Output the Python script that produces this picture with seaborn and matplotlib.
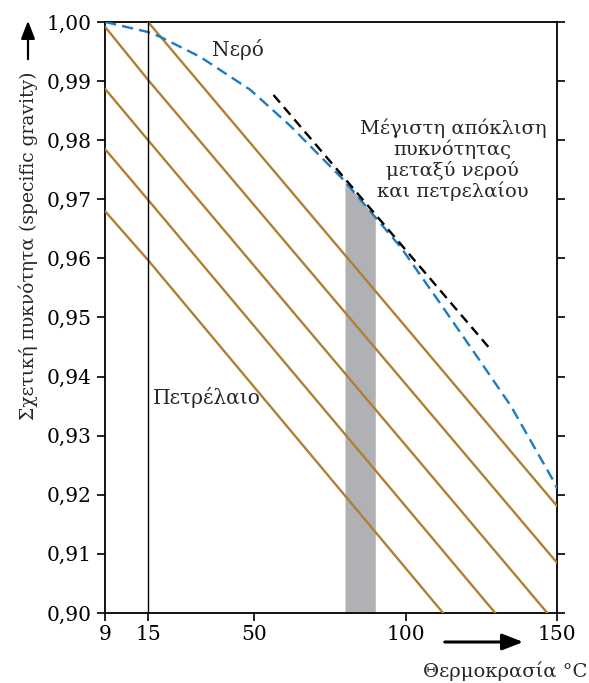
import matplotlib

matplotlib.use("Agg")

import matplotlib.pyplot as plt
import numpy as np
import pandas as pd
import seaborn as sns

# water curve (temperature °C, specific gravity)
water_t = [9, 15, 19, 32.2, 48.8, 62, 79.5, 98.4, 110.6, 122.5, 134.8, 149, 150]
water_sg = [1.000, 0.9983, 0.9975, 0.9941, 0.9885, 0.9824, 0.9733, 0.9619,
            0.9530, 0.9442, 0.9350, 0.9222, 0.9211]

# oil lines, one list of points each
oil_t = [
    [9, 15, 150],
    [15, 150],
    [9, 15, 146.8],
    [9, 15, 129.6],
    [9, 15, 112.4],
]
oil_sg = [
    [0.9992, 0.9902, 0.9085],
    [1.000, 0.9181],
    [0.9887, 0.9800, 0.900],
    [0.9785, 0.9699, 0.900],
    [0.9680, 0.9597, 0.900],
]

# tangent at the point of maximum deviation
tangent_t = [56.4, 128.5]
tangent_sg = [0.98765, 0.94433]

band_start, band_end = 80, 90

x_ticks = [9, 15, 50, 100, 150]
x_tick_labels = ["9", "15", "50", "100", "150"]
y_ticks = [0.90, 0.91, 0.92, 0.93, 0.94, 0.95, 0.96, 0.97, 0.98, 0.99, 1.00]
y_tick_labels = ["0,90", "0,91", "0,92", "0,93", "0,94", "0,95",
                 "0,96", "0,97", "0,98", "0,99", "1,00"]

BROWN = "#b07f35"
BLUE = "#1f7bc1"
GREY = "#b0b1b4"
K = 2.37  # stretch of the 9-15 section


def fwd(t):
    t = np.asarray(t, dtype=float)
    return np.where(t < 15, 15 - (15 - t) * K, t)


def inv(u):
    u = np.asarray(u, dtype=float)
    return np.where(u < 15, 15 - (15 - u) / K, u)


sns.set_style("ticks")
plt.rcParams["font.family"] = ["DejaVu Serif", "DejaVu Sans"]
plt.rcParams["font.size"] = 14

fig = plt.figure(figsize=(5.89, 6.83), dpi=100)
ax = fig.add_axes([0.1783, 0.1025, 0.7674, 0.8653])
ax.set_xscale("function", functions=(fwd, inv))

oil_df = pd.concat(
    [pd.DataFrame({"t": t, "sg": s, "line": i}) for i, (t, s) in enumerate(zip(oil_t, oil_sg))],
    ignore_index=True,
)
water_df = pd.DataFrame({"t": water_t, "sg": water_sg})
tangent_df = pd.DataFrame({"t": tangent_t, "sg": tangent_sg})

band_x = np.linspace(band_start, band_end, 30)
ax.fill_between(band_x, 0.90, np.interp(band_x, water_t, water_sg),
                color=GREY, linewidth=0, zorder=1)

sns.lineplot(data=oil_df, x="t", y="sg", units="line", estimator=None,
             color=BROWN, linewidth=1.7, sort=False, ax=ax, zorder=3)
sns.lineplot(data=water_df, x="t", y="sg", color=BLUE, linewidth=1.7,
             linestyle=(0, (4.8, 2.6)), ax=ax, zorder=4)
sns.lineplot(data=tangent_df, x="t", y="sg", color="black", linewidth=1.7,
             linestyle=(0, (4.2, 2.6)), ax=ax, zorder=4)
ax.axvline(15, color="black", linewidth=1.0, zorder=5)

ax.set_xlim(9, 150)
ax.set_ylim(0.90, 1.00)
ax.set_xticks(x_ticks)
ax.set_xticklabels(x_tick_labels)
ax.set_yticks(y_ticks)
ax.set_yticklabels(y_tick_labels)
ax.tick_params(axis="both", direction="out", length=6, width=1.2,
               labelsize=14.5, color="black", labelcolor="black")
ax.tick_params(axis="x", pad=3)
ax.tick_params(axis="y", pad=4, right=True, labelright=False)
for side in ax.spines.values():
    side.set_visible(True)
    side.set_color("black")
    side.set_linewidth(1.3)

ax.set_xlabel("")
ax.set_ylabel("Σχετική πυκνότητα (specific gravity)", fontsize=13.5, va="center")
ax.yaxis.set_label_coords(-0.17, 0.622)

ax.text(44.5, 0.9953, "Νερό", fontsize=14.5, ha="center", va="center")
ax.text(16.7, 0.9364, "Πετρέλαιο", fontsize=14.5, ha="left", va="center")
ax.text(115.6, 0.9767, "Μέγιστη απόκλιση\nπυκνότητας\nμεταξύ νερού\nκαι πετρελαίου",
        fontsize=14, ha="center", va="center", linespacing=1.1)

# axis arrows and temperature caption
fig.add_artist(matplotlib.patches.FancyArrowPatch(
    (442 / 589, 1 - 642 / 683), (526 / 589, 1 - 642 / 683),
    transform=fig.transFigure, arrowstyle="-|>,head_length=0.9,head_width=0.35",
    color="black", linewidth=2.2, mutation_scale=14))
fig.add_artist(matplotlib.patches.FancyArrowPatch(
    (28 / 589, 1 - 62 / 683), (28 / 589, 1 - 18 / 683),
    transform=fig.transFigure, arrowstyle="-|>,head_length=0.9,head_width=0.35",
    color="black", linewidth=1.6, mutation_scale=12))
fig.text(587 / 589, 1 - 671 / 683, "Θερμοκρασία °C", fontsize=14, ha="right", va="center")

fig.savefig("out.png", dpi=100)
plt.close(fig)
